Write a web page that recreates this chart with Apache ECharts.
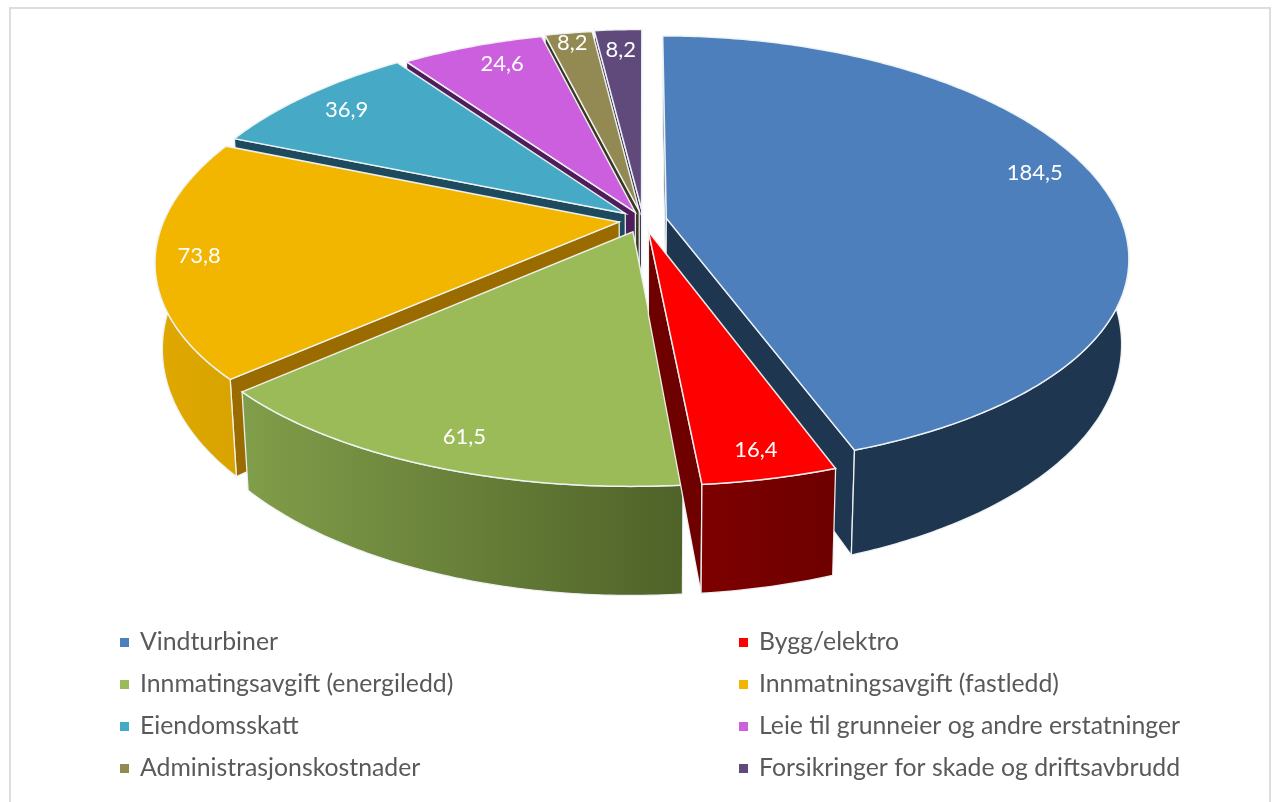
<!DOCTYPE html>
<html><head><meta charset="utf-8"><style>html,body{margin:0;padding:0;background:#fff}#c{width:1276px;height:802px}</style>
<script src="https://cdn.jsdelivr.net/npm/echarts@6/dist/echarts.min.js"></script></head>
<body><div id="c"></div>
<script>
const categories=["Vindturbiner","Bygg/elektro","Innmatingsavgift (energiledd)","Innmatningsavgift (fastledd)","Eiendomsskatt","Leie til grunneier og andre erstatninger","Administrasjonskostnader","Forsikringer for skade og driftsavbrudd"];
const values=[184.5,16.4,61.5,73.8,36.9,24.6,8.2,8.2];
const topColors=["#4c7fbc","#ff0000","#9bbb59","#f2b500","#46aac6","#cc5fdd","#938953","#604a7b"];
const wallColors=[["#1f3650","#1f3650"],["#7d0000","#6e0000"],["#819e4a","#4f6228"],["#e0a800","#d9a400"],["#1f4f60","#1f4f60"],["#4e1e5a","#4e1e5a"],["#3a3620","#3a3620"],["#33264a","#33264a"]];
const sideColors=["#1f3650","#6e0000","#5f7a32","#9a6c00","#1d4a5c","#4e1e5a","#3a3620","#33264a"];
const explode=[0.052,0.055,0.06,0.053,0.05,0.04,0.045,0.05];
const labelRadius=[0.875,0.9,0.885,0.908,0.865,0.87,0.94,0.87];
const labelShift=[-5,0,-1,0,0,2,0,0];
const CX=643,CY=220,RX=455,RY=211,PX=0.18,PY=0.155,DEPTH=82,PD=0.26,SHRINK=0.985,WALL_FROM=85,WALL_TO=275;
const total=values.reduce((a,b)=>a+b,0);
let acc=0;
const spans=values.map(v=>{const s=acc/total*360;acc+=v;return [s,acc/total*360];});
const rad=d=>d*Math.PI/180;
function proj(X,Y,low){const sx=1/(1-PX*Y),sy=1/(1-PY*Y);const k=low?SHRINK:1;
  return [CX+RX*X*sx*k,CY+RY*Y*sy*k+(low?DEPTH/(1-PD*Y):0)];}
function pt(i,deg,r,low){const m=rad((spans[i][0]+spans[i][1])/2),a=rad(deg),e=explode[i];
  return proj(r*Math.sin(a)+e*Math.sin(m),-r*Math.cos(a)-e*Math.cos(m),low);}
function area(p){let t=0;for(let i=0;i<p.length;i++){const a=p[i],b=p[(i+1)%p.length];t+=a[0]*b[1]-b[0]*a[1];}return t/2;}
const EDGE="rgba(240,244,246,0.95)";
function renderSlice(params,api){
  const i=params.seriesIndex,v=api.value(0),a0=spans[i][0],a1=a0+v/total*360,n=Math.max(8,Math.round((a1-a0)*1.5));
  const topArc=[];
  for(let k=0;k<=n;k++){topArc.push(pt(i,a0+(a1-a0)*k/n,1,false));}
  const tipT=pt(i,a0,0,false),tipB=pt(i,a0,0,true),kids=[];
  const wall=(d)=>[tipT,pt(i,d,1,false),pt(i,d,1,true),tipB];
  const w0=wall(a0),w1=wall(a1);
  const wallStyle={fill:sideColors[i],stroke:EDGE,lineWidth:1.3};
  if(area(w0)<0)kids.push({type:'polygon',shape:{points:w0},style:wallStyle});
  if(area(w1)>0)kids.push({type:'polygon',shape:{points:w1},style:wallStyle});
  const wa=Math.max(a0,WALL_FROM),wb=Math.min(a1,WALL_TO);
  if(wb>wa){
    const up=[],lo=[],m=Math.max(8,Math.round((wb-wa)*1.5));
    for(let k=0;k<=m;k++){const d=wa+(wb-wa)*k/m;up.push(pt(i,d,1,false));lo.push(pt(i,d,1,true));}
    const xs=up.map(p=>p[0]);
    kids.push({type:'polygon',shape:{points:up.concat(lo.reverse())},style:{
      fill:{type:'linear',global:true,x:Math.min(...xs),y:0,x2:Math.max(...xs),y2:0,colorStops:[{offset:0,color:wallColors[i][0]},{offset:1,color:wallColors[i][1]}]},
      stroke:EDGE,lineWidth:1.3}});
  }
  kids.push({type:'polygon',shape:{points:[tipT].concat(topArc)},style:{fill:topColors[i],stroke:EDGE,lineWidth:1.5}});
  const lp=pt(i,(a0+a1)/2+labelShift[i],labelRadius[i],false);
  kids.push({type:'text',z2:50,style:{text:v.toFixed(1).replace('.',','),x:lp[0],y:lp[1],fill:'#fff',font:'22px Lato',align:'center',verticalAlign:'middle'}});
  return {type:'group',children:kids};
}
const depthOrder=spans.map(s=>-Math.cos(rad((s[0]+s[1])/2)));
const series=categories.map((name,i)=>({type:'custom',name,coordinateSystem:'none',silent:true,
  z:2+depthOrder.filter(d=>d<depthOrder[i]).length,
  itemStyle:{color:topColors[i]},data:[[values[i]]],renderItem:renderSlice,animation:false}));
const legendBase={orient:'vertical',selectedMode:false,icon:'rect',itemWidth:9,itemHeight:9,itemGap:17,padding:0,
  textStyle:{fontFamily:'Lato',fontSize:24.8,color:'#595959',padding:[0,0,0,6],lineHeight:24}};
const chart=echarts.init(document.getElementById('c'),null,{renderer:'canvas'});
chart.setOption({animation:false,backgroundColor:'#fff',
  graphic:[{type:'rect',z:-1,silent:true,shape:{x:10,y:8,width:1260,height:810},style:{fill:'none',stroke:'#dddddd',lineWidth:2}}],
  legend:[Object.assign({},legendBase,{left:120,top:630,data:categories.filter((c,i)=>i%2===0)}),
          Object.assign({},legendBase,{left:739,top:630,data:categories.filter((c,i)=>i%2===1)})],
  series});
</script></body></html>
